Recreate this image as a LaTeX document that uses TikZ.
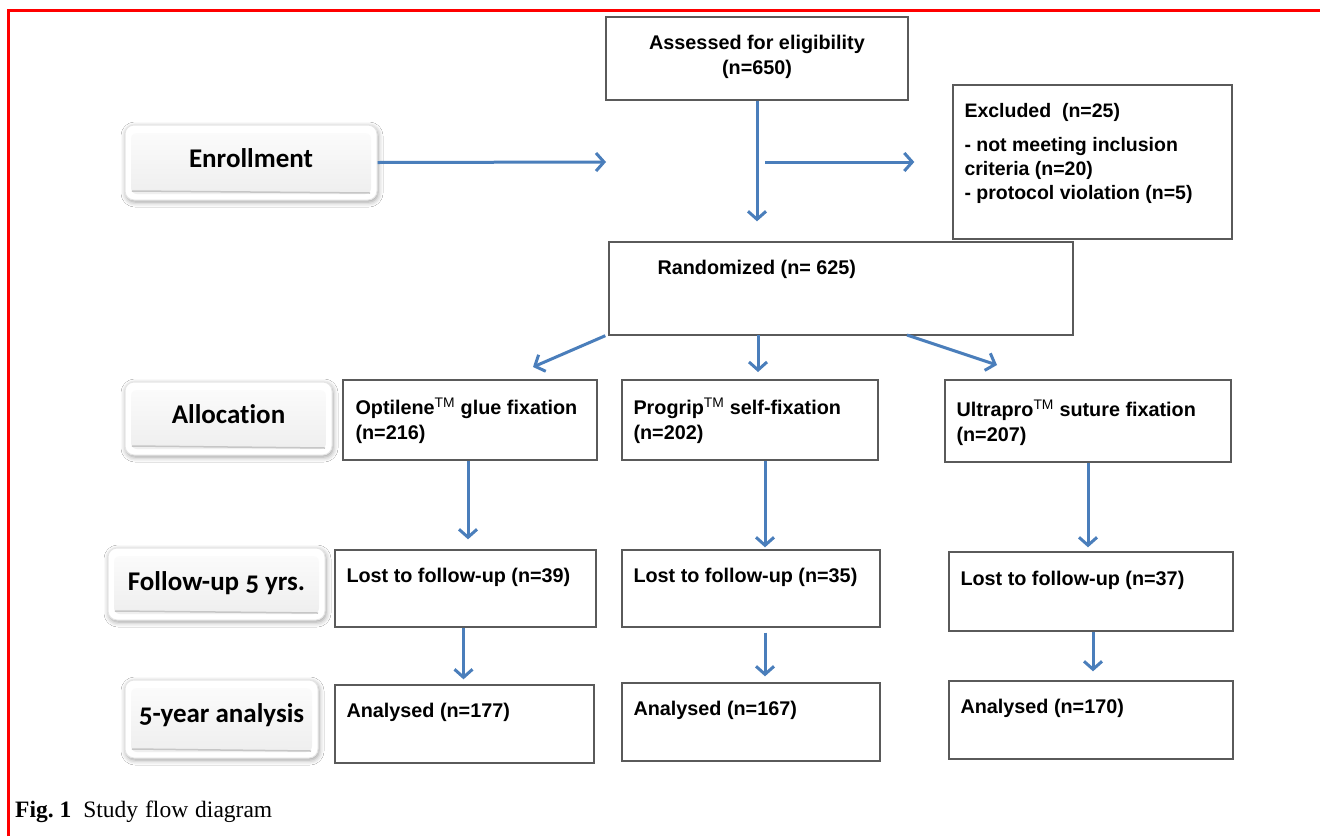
\documentclass[tikz,border=0pt]{standalone}
\usepackage{fontspec}
\setmainfont{Liberation Sans}
\newfontfamily\calfont[Numbers=OldStyle,Ligatures=NoCommon]{Carlito}
\newfontfamily\timesfont{Liberation Serif}
\usetikzlibrary{arrows.meta,shadows.blur,calc}
\definecolor{arrblue}{HTML}{4A7EBB}
\definecolor{boxgray}{HTML}{5A5A5A}
\begin{document}
\begin{tikzpicture}[x=1pt,y=-1pt,
  arr/.style={draw=arrblue, line width=3pt, -{Straight Barb[length=8pt,width=18pt,line width=3pt]}},
  plainbox/.style={draw=boxgray, line width=1.4pt, fill=white, inner sep=0pt},
  txt/.style={inner sep=0pt, align=left, font=\bfseries\fontsize{19.8}{25}\selectfont},
  stagebox/.style={rounded corners=9pt, fill=white, draw=gray!20, line width=1pt, inner sep=0pt,
    blur shadow={shadow xshift=1pt, shadow yshift=-2pt, shadow blur radius=5pt, shadow opacity=40},
    font=\calfont\bfseries\fontsize{27}{30}\selectfont,
    path picture={
      \shade[rounded corners=6pt, top color=gray!2, bottom color=gray!14]
        ([shift={(6pt,-8pt)}]path picture bounding box.north west) rectangle
        ([shift={(-6pt,6pt)}]path picture bounding box.south east);
      \draw[gray!45, line width=1.5pt, rounded corners=5pt]
        ([shift={(7pt,9pt)}]path picture bounding box.south west) -- ([shift={(-7pt,7pt)}]path picture bounding box.south east);
    }},
]
\useasboundingbox (0,0) rectangle (1320,836);
\fill[white] (0,0) rectangle (1320,836);
% red frame
\draw[red, line width=3pt] (8,836) -- (8,10) -- (1320,10);

% stage boxes
\node[stagebox, minimum width=252pt, minimum height=75pt] (enr) at (251,162.5) {\raisebox{9pt}{Enrollment}};
\node[stagebox, minimum width=207pt, minimum height=73pt] (alloc) at (228.5,418.5) {\raisebox{8pt}{Allocation}};
\node[stagebox, minimum width=217pt, minimum height=72pt] (fup) at (216.5,584) {\raisebox{6pt}{Follow-up 5 yrs.}};
\node[stagebox, minimum width=193pt, minimum height=78pt] (ana) at (221.5,719) {\raisebox{11pt}{5-year analysis}};

% plain boxes
\node[plainbox, minimum width=302pt, minimum height=83pt] (assess) at (757,58.5) {};
\node[txt, align=center, anchor=north] (tassess) at ([yshift=-19pt]assess.north) {Assessed for eligibility\\(n=650)};

\node[plainbox, minimum width=279pt, minimum height=154pt] (excl) at (1092.5,162) {};
\node[txt, anchor=north west, font=\bfseries\fontsize{19.5}{24}\selectfont] (texcl) at ([shift={(12pt,-19pt)}]excl.north west)
  {Excluded\ \ (n=25)\\[10pt]- not meeting inclusion\\criteria (n=20)\\- protocol violation (n=5)};

\node[plainbox, minimum width=464pt, minimum height=93pt] (rand) at (841,288.5) {};
\node[txt, anchor=north west] (trand) at ([shift={(49pt,-19pt)}]rand.north west) {Randomized (n= 625)};

\node[plainbox, minimum width=254pt, minimum height=80pt] (opt) at (470,420) {};
\node[txt, anchor=north west] (topt) at ([shift={(13pt,-18pt)}]opt.north west) {Optilene\textsuperscript{\mdseries TM} glue fixation\\(n=216)};

\node[plainbox, minimum width=256pt, minimum height=80pt] (prog) at (750,420) {};
\node[txt, anchor=north west] (tprog) at ([shift={(12pt,-18pt)}]prog.north west) {Progrip\textsuperscript{\mdseries TM} self-fixation\\(n=202)};

\node[plainbox, minimum width=286pt, minimum height=82pt] (ultra) at (1088,421) {};
\node[txt, anchor=north west] (tultra) at ([shift={(12pt,-20pt)}]ultra.north west) {Ultrapro\textsuperscript{\mdseries TM} suture fixation\\(n=207)};

\node[plainbox, minimum width=261pt, minimum height=77pt] (lost1) at (465.5,588.5) {};
\node[txt, anchor=north west] (tlost1) at ([shift={(12pt,-19pt)}]lost1.north west) {Lost to follow-up (n=39)};

\node[plainbox, minimum width=258pt, minimum height=77pt] (lost2) at (751,588.5) {};
\node[txt, anchor=north west] (tlost2) at ([shift={(12pt,-19pt)}]lost2.north west) {Lost to follow-up (n=35)};

\node[plainbox, minimum width=284pt, minimum height=79pt] (lost3) at (1091,591.5) {};
\node[txt, anchor=north west] (tlost3) at ([shift={(12pt,-20pt)}]lost3.north west) {Lost to follow-up (n=37)};

\node[plainbox, minimum width=259pt, minimum height=78pt] (an1) at (464.5,724) {};
\node[txt, anchor=north west] (tan1) at ([shift={(12pt,-19pt)}]an1.north west) {Analysed (n=177)};

\node[plainbox, minimum width=258pt, minimum height=78pt] (an2) at (751,722) {};
\node[txt, anchor=north west] (tan2) at ([shift={(12pt,-19pt)}]an2.north west) {Analysed (n=167)};

\node[plainbox, minimum width=284pt, minimum height=78pt] (an3) at (1091,720) {};
\node[txt, anchor=north west] (tan3) at ([shift={(12pt,-19pt)}]an3.north west) {Analysed (n=170)};

% caption
\node[inner sep=0pt, anchor=base west, font=\timesfont\fontsize{23.5}{27}\selectfont] (cap) at (15,817)
  {\textbf{Fig.~1}\hspace{12pt}Study\hspace{7pt}flow\hspace{7pt}diagram};

% connectors
\coordinate (j) at (assess.south |- excl.west);
\coordinate (enrEnd) at (606,162);
\draw[arr] (enr.east) -- (enrEnd);
\draw[arr, shorten >=20pt] (assess.south) -- (assess.south |- rand.north);
\draw[arr, shorten <=8pt, shorten >=38pt] (j) -- (excl.west);

\coordinate (aL) at (533,367);
\coordinate (mS) at (758,335);
\coordinate (mE) at (758,372);
\coordinate (rS) at (907,335);
\coordinate (aR) at (997,365);
\draw[arr] ([xshift=-3pt]rand.south west) -- (aL);
\draw[arr] (mS) -- (mE);
\draw[arr] (rS) -- (aR);

\draw[arr, shorten >=10pt] ([xshift=-2pt]opt.south) -- ([xshift=-2pt]opt.south |- lost1.north);
\draw[arr, shorten >=2pt] ([xshift=15pt]prog.south) -- ([xshift=15pt]prog.south |- lost2.north);
\draw[arr, shorten >=4pt] (ultra.south) -- (ultra.south |- lost3.north);

\draw[arr, shorten >=5pt] ([xshift=-2pt]lost1.south) -- ([xshift=-2pt]lost1.south |- an1.north);
\draw[arr, shorten <=5pt, shorten >=6pt] ([xshift=14pt]lost2.south) -- ([xshift=14pt]lost2.south |- an2.north);
\draw[arr, shorten >=9pt] ([xshift=2pt]lost3.south) -- ([xshift=2pt]lost3.south |- an3.north);
\end{tikzpicture}
\end{document}
